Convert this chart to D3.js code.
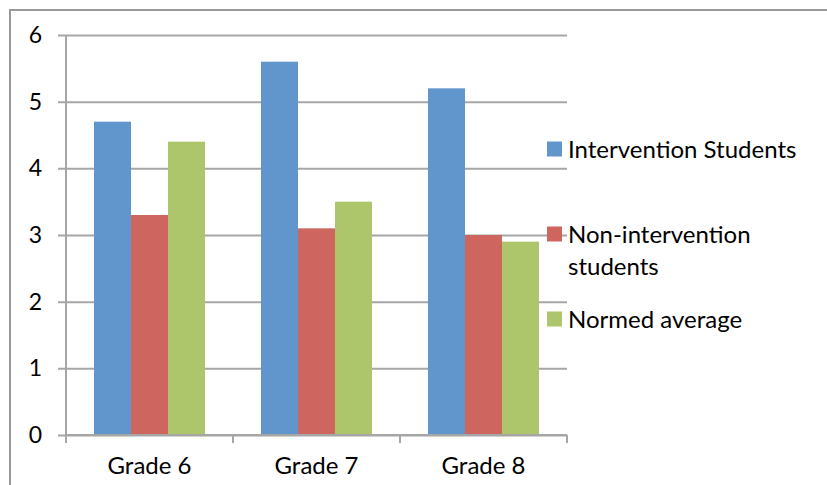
<!DOCTYPE html>
<html>
<head>
<meta charset="utf-8">
<script src="https://cdn.jsdelivr.net/npm/d3@7"></script>
<style>
  body { margin: 0; background: #fff; }
  svg text { font-family: Lato, "Open Sans", sans-serif; fill: #000; }
</style>
</head>
<body>
<svg id="chart" width="827" height="485"></svg>
<script>
const grades = ["Grade 6", "Grade 7", "Grade 8"];
const seriesNames = ["Intervention Students", "Non-intervention students", "Normed average"];
const intervention = [4.7, 5.6, 5.2];
const nonIntervention = [3.3, 3.1, 3.0];
const normed = [4.4, 3.5, 2.9];
const yTicks = [0, 1, 2, 3, 4, 5, 6];

const colors = ["#6096CB", "#CE665F", "#ADC56B"];
const values = [intervention, nonIntervention, normed];

const svg = d3.select("#chart");

// outer frame (left and top edges are visible)
svg.append("rect")
  .attr("x", 10).attr("y", 10)
  .attr("width", 830).attr("height", 500)
  .attr("fill", "none")
  .attr("stroke", "#999")
  .attr("stroke-width", 2);

const plotLeft = 66, plotRight = 567, plotTop = 35, plotBottom = 435;

const x = d3.scaleBand().domain(grades).range([plotLeft, plotRight]).padding(0);
const xInner = d3.scaleBand().domain(d3.range(3)).range([0, x.bandwidth()])
  .paddingInner(0).paddingOuter(0.757);
const y = d3.scaleLinear().domain([0, 6]).range([plotBottom, plotTop]);

// gridlines + y ticks
const yAxis = svg.append("g")
  .attr("transform", `translate(${plotLeft},0)`)
  .call(d3.axisLeft(y).tickValues(yTicks).tickFormat(d3.format("d"))
    .tickSize(-(plotRight - plotLeft)).tickSizeOuter(0).tickPadding(24));
yAxis.select(".domain").remove();
yAxis.selectAll(".tick line")
  .attr("x1", -8)
  .attr("stroke", "#a6a6a6")
  .attr("stroke-width", 2);
yAxis.selectAll(".tick text").style("font-size", "23px");

// y axis line
svg.append("line")
  .attr("x1", plotLeft).attr("x2", plotLeft)
  .attr("y1", plotTop).attr("y2", plotBottom)
  .attr("stroke", "#a6a6a6").attr("stroke-width", 2);

// bars
grades.forEach((g, gi) => {
  svg.append("g")
    .selectAll("rect")
    .data(values.map((s, si) => ({ si, v: s[gi] })))
    .join("rect")
    .attr("x", d => x(g) + xInner(d.si))
    .attr("y", d => y(d.v))
    .attr("width", xInner.bandwidth())
    .attr("height", d => y(0) - y(d.v))
    .attr("fill", d => colors[d.si]);
});

// x axis
const xAxis = svg.append("g")
  .attr("transform", `translate(0,${plotBottom})`)
  .call(d3.axisBottom(x).tickSize(0).tickPadding(22));
xAxis.select(".domain")
  .attr("stroke", "#a6a6a6").attr("stroke-width", 2)
  .attr("d", `M${plotLeft},0H${plotRight}`);
xAxis.selectAll(".tick text").style("font-size", "24px");
// category boundary ticks
svg.append("g")
  .selectAll("line")
  .data(grades.concat([null]))
  .join("line")
  .attr("x1", (d, i) => i < grades.length ? x(d) : plotRight)
  .attr("x2", (d, i) => i < grades.length ? x(d) : plotRight)
  .attr("y1", plotBottom).attr("y2", plotBottom + 8)
  .attr("stroke", "#a6a6a6").attr("stroke-width", 2);

// legend
const legendY = [149, 234, 319];
const legend = svg.append("g");
seriesNames.forEach((name, i) => {
  const g = legend.append("g").attr("transform", `translate(547,${legendY[i]})`);
  g.append("rect").attr("x", 0).attr("y", -7.5).attr("width", 15).attr("height", 15).attr("fill", colors[i]);
  const t = g.append("text").attr("x", 21).attr("y", 9).style("font-size", "24px");
  if (i === 1) {
    t.append("tspan").attr("x", 21).text("Non-intervention");
    t.append("tspan").attr("x", 21).attr("dy", 32).text("students");
  } else {
    t.text(name);
  }
});
</script>
</body>
</html>
